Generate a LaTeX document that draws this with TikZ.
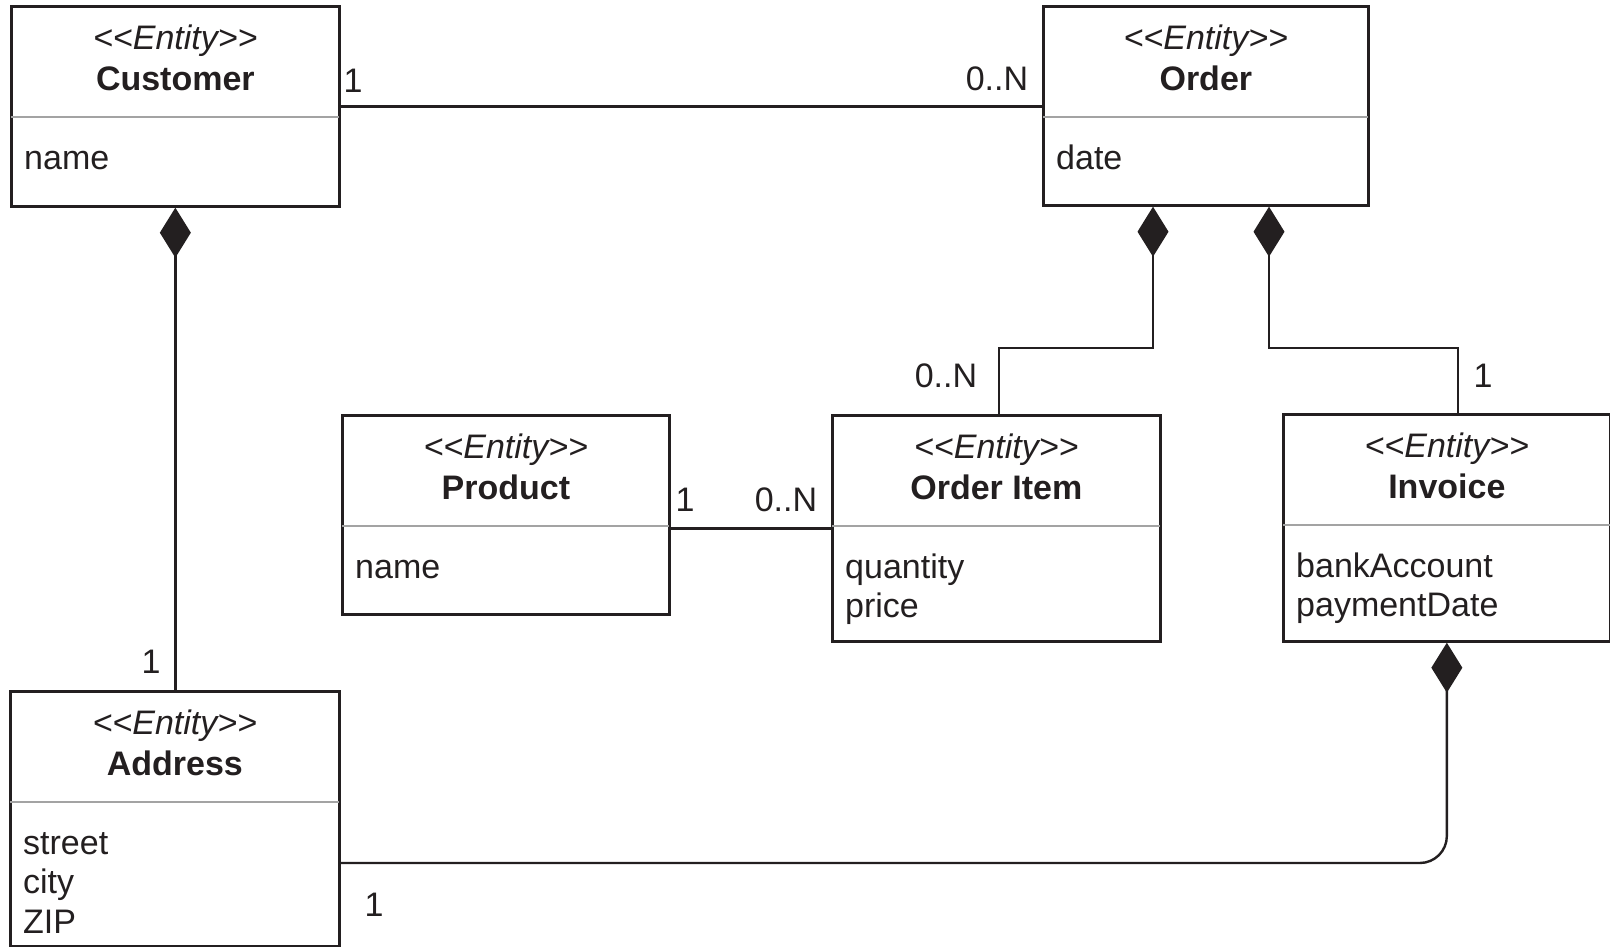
\documentclass[tikz,border=0pt]{standalone}
\usepackage{fontspec}
\newfontfamily\umlfont{Liberation Sans}
\usetikzlibrary{arrows.meta,calc}
\definecolor{ink}{HTML}{231F20}
\definecolor{divider}{HTML}{A3A3A3}
\tikzset{
  txt/.style={font=\umlfont\fontsize{34}{40}\selectfont, text=ink, inner sep=0pt, anchor=base},
  classbox/.style={draw=ink, line width=2.7pt, fill=white, rectangle, inner sep=0pt, anchor=north west},
  stereo/.style={txt, font=\umlfont\fontsize{34}{40}\selectfont\itshape},
  cname/.style={txt, font=\umlfont\fontsize{34}{40}\selectfont\bfseries},
  attr/.style={txt, anchor=base west},
  mult/.style={txt},
  conn/.style={draw=ink, line width=2.4pt},
  comp/.style={conn, {Diamond[length=50pt,width=31pt]}-},
}
% entity box: name, left, top, width, height, title, attribute list
\newcommand\entitybox[7]{%
  \node[classbox, minimum width=#4pt, minimum height=#5pt] (#1) at (#2,#3) {};
  \draw[divider, line width=2pt] ($(#1.north west)+(1.35,112)$) -- ($(#1.north east)+(-1.35,112)$);
  \node[stereo] (#1-st) at ($(#1.north)+(0,44)$) {<<Entity>>};
  \node[cname] (#1-nm) at ($(#1.north)+(0,85)$) {#6};
  \foreach \a [count=\i from 0] in {#7}
    \node[attr] (#1-at\i) at ($(#1.north west)+(14,164+39.5*\i)$) {\a};
}
\begin{document}
\begin{tikzpicture}[x=1pt,y=-1pt]
  \fill[white] (0,0) rectangle (1610,946);
  \useasboundingbox (0,0) rectangle (1610,946);

  \entitybox{customer}{10}{5}{328}{200}{Customer}{name}
  \entitybox{order}{1042}{5}{325}{199}{Order}{date}
  \entitybox{product}{341}{414}{327}{199}{Product}{name}
  \entitybox{item}{831}{414}{328}{226}{Order Item}{quantity,price}
  \entitybox{invoice}{1282}{413}{327}{227}{Invoice}{bankAccount,paymentDate}
  \entitybox{address}{9}{690}{329}{255}{Address}{street,city,ZIP}

  % associations
  \draw[conn] (customer.east) -- (customer.east -| order.west);
  \draw[conn] (item.west -| product.east) -- (item.west);

  % compositions
  \draw[comp] (customer.south) -- (customer.south |- address.north);
  \draw[comp] ($(order.south west)+(111,0)$) |- ($(item.north west)+(168,-66)$) -- ($(item.north west)+(168,0)$);
  \draw[comp] ($(order.south west)+(227,0)$) |- ($(invoice.north west)+(176,-65)$) -- ($(invoice.north west)+(176,0)$);
  \draw[comp, rounded corners=27pt] (invoice.south) |- ($(address.north east)+(0,173)$);

  % multiplicities
  \node[mult] (m-cust) at (353,92) {1};
  \node[mult] (m-ord) at (997,90) {0..N};
  \node[mult] (m-addr) at (151,673) {1};
  \node[mult] (m-item) at (946,387) {0..N};
  \node[mult] (m-inv) at (1483,387) {1};
  \node[mult] (m-prod) at (685,511) {1};
  \node[mult] (m-itemp) at (786,511) {0..N};
  \node[mult] (m-addr2) at (374,916) {1};
\end{tikzpicture}
\end{document}
